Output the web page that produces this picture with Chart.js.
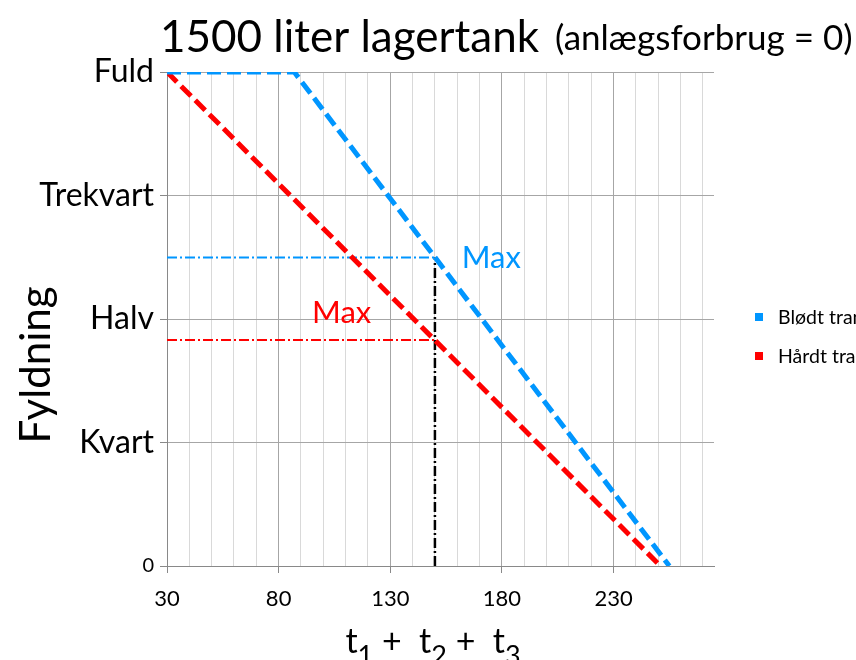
<!DOCTYPE html>
<html><head><meta charset="utf-8">
<script src="https://cdn.jsdelivr.net/npm/chart.js@4.4.0/dist/chart.umd.min.js"></script>
<style>html,body{margin:0;padding:0;background:#fff;overflow:hidden}#wrap{width:856px;height:660px;position:relative}</style>
</head><body><div id="wrap"><canvas id="c" width="856" height="660"></canvas></div>
<script>
// ---- data ----
const seriesLabels = ['Blødt transport', 'Hårdt transport'];
const blodtX = [30, 87, 255];
const blodtY = [1500, 1500, 0];
const haardtX = [30, 251];
const haardtY = [1500, 0];
const maxBlodtX = [30, 150];
const maxBlodtY = [937, 937];
const maxHaardtX = [30, 150];
const maxHaardtY = [686, 686];
const markerX = [150, 150];
const markerY = [0, 937];
const yTickValues = [0, 375, 750, 1125, 1500];
const yTickLabels = ['0', 'Kvart', 'Halv', 'Trekvart', 'Fuld'];
const xTickLabels = [30, 80, 130, 180, 230];
const titleMain = '1500 liter lagertank';
const titleSub = '(anlægsforbrug = 0)';
const yTitle = 'Fyldning';
const maxLabel = 'Max';

const FONT = 'Lato';
const BLUE = '#0096ff';
const RED = '#ff0000';
const pts = (xs, ys) => xs.map((x, i) => ({x: x, y: ys[i]}));

const textPlugin = {
  id: 'texts',
  afterDraw(chart) {
    const ctx = chart.ctx, xs = chart.scales.x, ys = chart.scales.y;
    ctx.save();
    ctx.fillStyle = '#000';
    ctx.textBaseline = 'alphabetic';
    ctx.textAlign = 'left';
    // title
    ctx.font = '44px ' + FONT;
    ctx.fillText(titleMain, 160, 52);
    ctx.font = '35px ' + FONT;
    ctx.fillText(titleSub, 555, 50);
    // y title
    ctx.save();
    ctx.translate(50, 365);
    ctx.rotate(-Math.PI / 2);
    ctx.textAlign = 'center';
    ctx.font = '42px ' + FONT;
    ctx.fillText(yTitle, 0, 0);
    ctx.restore();
    // x title with subscripts
    const parts = [['t', 0], ['1', 1], [' +  ', 0], ['t', 0], ['2', 1], [' +  ', 0], ['t', 0], ['3', 1]];
    const big = '34px ' + FONT, small = '27px ' + FONT;
    let w = 0;
    parts.forEach(p => { ctx.font = p[1] ? small : big; w += ctx.measureText(p[0]).width; });
    let x = 433 - w / 2;
    parts.forEach(p => {
      ctx.font = p[1] ? small : big;
      ctx.fillText(p[0], x, p[1] ? 665 : 653);
      x += ctx.measureText(p[0]).width;
    });
    // Max labels
    ctx.font = '31px ' + FONT;
    ctx.textBaseline = 'middle';
    ctx.fillStyle = BLUE;
    ctx.fillText(maxLabel, xs.getPixelForValue(162), ys.getPixelForValue(935));
    ctx.fillStyle = RED;
    ctx.fillText(maxLabel, xs.getPixelForValue(95), ys.getPixelForValue(768));
    // legend
    ctx.font = '19.5px ' + FONT;
    const legendY = [317, 356];
    [0, 1].forEach(i => {
      const ds = chart.data.datasets[i];
      ctx.fillStyle = ds.borderColor;
      ctx.fillRect(755, legendY[i] - 4, 8, 8);
      ctx.fillStyle = '#000';
      ctx.fillText(ds.label, 778, legendY[i] + 1);
    });
    ctx.restore();
  }
};

const mainLine = (label, data, color) => ({
  label: label, data: data, showLine: true, borderColor: color, backgroundColor: color,
  borderWidth: 5, borderDash: [14, 6], pointRadius: 0, fill: false, tension: 0, order: 1
});
const dashDot = (data, color, w) => ({
  label: '', data: data, showLine: true, borderColor: color, backgroundColor: color,
  borderWidth: w, borderDash: [10, 3, 2, 3], pointRadius: 0, fill: false, tension: 0, order: 2
});

new Chart(document.getElementById('c'), {
  type: 'scatter',
  data: {
    datasets: [
      mainLine(seriesLabels[0], pts(blodtX, blodtY), BLUE),
      mainLine(seriesLabels[1], pts(haardtX, haardtY), RED),
      dashDot(pts(maxBlodtX, maxBlodtY), BLUE, 2),
      dashDot(pts(maxHaardtX, maxHaardtY), RED, 2),
      dashDot(pts(markerX, markerY), '#000', 2.5)
    ]
  },
  options: {
    responsive: false, animation: false, devicePixelRatio: 1,
    layout: {padding: {left: 0, right: 142, top: 72, bottom: 0}},
    plugins: {legend: {display: false}, tooltip: {enabled: false}, title: {display: false}},
    scales: {
      x: {
        type: 'linear', min: 30, max: 275,
        afterFit(s) { s.height = 94; },
        afterBuildTicks(s) { const t = []; for (let v = 30; v <= 270; v += 10) t.push({value: v}); s.ticks = t; },
        ticks: {autoSkip: false, maxRotation: 0, padding: 13, color: '#000', font: {family: FONT, size: 22},
          callback: v => xTickLabels.includes(v) ? String(v) : ''},
        grid: {tickLength: 7,
          color: c => (c.tick && (c.tick.value - 30) % 50 === 0) ? '#a6a6a6' : '#d9d9d9',
          tickColor: c => (c.tick && (c.tick.value - 30) % 50 === 0) ? '#898989' : 'rgba(0,0,0,0)'},
        border: {color: '#898989', width: 1}
      },
      y: {
        type: 'linear', min: 0, max: 1500,
        afterFit(s) { s.width = 167; },
        afterBuildTicks(s) { s.ticks = yTickValues.map(v => ({value: v})); },
        ticks: {padding: 6, color: '#000',
          font: c => ({family: FONT, size: (c.tick && c.tick.value === 0) ? 20 : 32}),
          callback: v => yTickLabels[yTickValues.indexOf(v)]},
        grid: {tickLength: 7, color: '#a6a6a6', tickColor: '#898989'},
        border: {color: '#898989', width: 1}
      }
    }
  },
  plugins: [textPlugin]
});
</script></body></html>
